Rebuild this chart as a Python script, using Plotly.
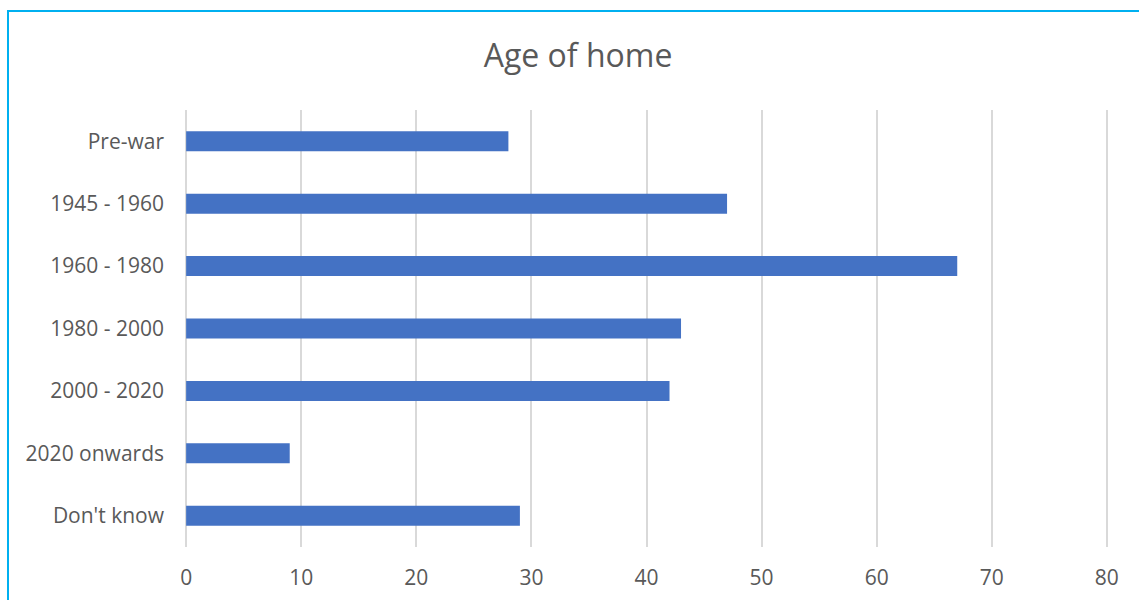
import plotly.graph_objects as go

categories = ["Pre-war", "1945 - 1960", "1960 - 1980", "1980 - 2000", "2000 - 2020", "2020 onwards", "Don't know"]
values = [28, 47, 67, 43, 42, 9, 29]
x_ticks = [0, 10, 20, 30, 40, 50, 60, 70, 80]

L, R, T, B = 185, 31, 110, 53
W, H = 1139, 600
pw = W - L - R
ph = H - T - B

fig = go.Figure(go.Bar(
    x=values, y=categories, orientation="h",
    marker=dict(color="#4472C4", line=dict(width=0)),
    width=0.32,
))

fig.update_layout(
    width=W, height=H,
    margin=dict(l=L, r=R, t=T, b=B),
    paper_bgcolor="white", plot_bgcolor="white",
    title=dict(text="Age of home", x=(578) / W, xanchor="center", y=1 - 56 / H, yanchor="middle",
               font=dict(family="Open Sans", size=32, color="#595959")),
    font=dict(family="Open Sans", color="#595959", size=20),
    showlegend=False,
)
fig.update_xaxes(range=[-0.1, 80.1], tickvals=x_ticks, showgrid=True, gridcolor="#D9D9D9", gridwidth=1.5,
                 zeroline=False, showline=False, ticks="", ticklabelstandoff=16, automargin=False,
                 tickfont=dict(size=21, color="#595959"))
fig.update_yaxes(categoryorder="array", categoryarray=categories[::-1], autorange=True,
                 showgrid=False, zeroline=False, showline=False, ticks="", ticklabelstandoff=20,
                 automargin=False, tickfont=dict(size=21, color="#595959"))

# outer chart border (light blue), partially cut off at right and bottom
x0 = (8 - L) / pw
x1 = (W + 10 - L) / pw
y1 = (H - B - 11) / ph
y0 = (H - B - (H + 10)) / ph
fig.add_shape(type="rect", xref="paper", yref="paper", x0=x0, x1=x1, y0=y0, y1=y1,
              line=dict(color="#00B0F0", width=2), fillcolor="rgba(0,0,0,0)", layer="above")

fig.write_html("out.html")
